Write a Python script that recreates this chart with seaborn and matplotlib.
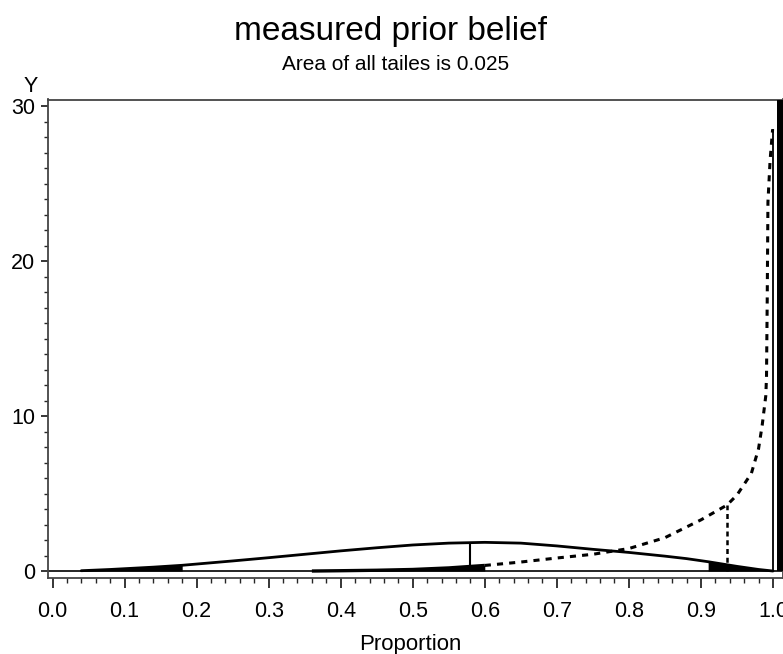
import matplotlib
matplotlib.use("Agg")
import matplotlib.pyplot as plt
import seaborn as sns
import numpy as np
from matplotlib.ticker import MultipleLocator, FormatStrFormatter

# ---- text ----
title = "measured prior belief"
subtitle = "Area of all tailes is 0.025"
x_label = "Proportion"
y_label = "Y"

# ---- solid curve (prior) ----
prior_x = [0.04, 0.06, 0.08, 0.10, 0.12, 0.14, 0.16, 0.18, 0.20, 0.25, 0.30, 0.35,
           0.40, 0.45, 0.50, 0.55, 0.60, 0.65, 0.70, 0.75, 0.80, 0.85, 0.88, 0.91,
           0.95, 0.98, 1.00]
prior_y = [0.02, 0.06, 0.10, 0.15, 0.20, 0.25, 0.31, 0.37, 0.45, 0.65, 0.86, 1.08,
           1.30, 1.50, 1.68, 1.80, 1.85, 1.80, 1.62, 1.40, 1.20, 0.96, 0.80, 0.60,
           0.30, 0.10, 0.00]
prior_lower_tail_end = 0.18
prior_upper_tail_start = 0.91
prior_center = 0.58
prior_center_height = 1.83

# ---- dashed curve (measured) ----
meas_x = [0.36, 0.40, 0.45, 0.50, 0.55, 0.60, 0.65, 0.70, 0.75, 0.80, 0.85, 0.90,
          0.936, 0.95, 0.97, 0.98, 0.985, 0.99, 0.991, 0.992, 0.993, 0.996, 0.9995]
meas_y = [0.00, 0.02, 0.05, 0.10, 0.20, 0.36, 0.58, 0.84, 1.08, 1.45, 2.15, 3.30,
          4.25, 4.90, 6.30, 7.90, 9.40, 11.3, 12.5, 17.5, 23.8, 26.5, 28.5]
meas_lower_tail_end = 0.60
meas_center = 0.936
meas_center_height = 4.25
meas_edge_x = 0.9995
meas_edge_height = 28.5
meas_upper_tail_x = [1.0055, 1.03]
meas_upper_tail_height = 32

x_ticks = [0.0, 0.1, 0.2, 0.3, 0.4, 0.5, 0.6, 0.7, 0.8, 0.9, 1.0]
y_ticks = [0, 10, 20, 30]

sns.set_style("ticks")
plt.rcParams['font.family'] = ['Liberation Sans', 'DejaVu Sans']

W, H = 783, 654
fig = plt.figure(figsize=(W / 100, H / 100), dpi=100)
left_px, right_px, top_px, bot_px = 48, 783, 99.5, 578
ax = fig.add_axes([left_px / W, 1 - bot_px / H, (right_px - left_px) / W, (bot_px - top_px) / H])

ax.set_xlim(-0.00625, 1.0139)
ax.set_ylim(-0.45, 30.42)

ink = "black"
# baseline
ax.axhline(0, color=ink, lw=1.2, zorder=2)

# prior curve and tails
px = np.array(prior_x); py = np.array(prior_y)
sns.lineplot(x=prior_x, y=prior_y, ax=ax, color=ink, lw=2.0, estimator=None, sort=False, zorder=3)
m = px <= prior_lower_tail_end
ax.fill_between(px[m], 0, py[m], color=ink, lw=0, zorder=3)
m = px >= prior_upper_tail_start
ax.fill_between(px[m], 0, py[m], color=ink, lw=0, zorder=3)
ax.vlines(prior_center, 0, prior_center_height, color=ink, lw=1.5, zorder=3)

# measured curve and tails
mx = np.array(meas_x); my = np.array(meas_y)
m = mx <= meas_lower_tail_end
sns.lineplot(x=mx[~m | (mx == meas_lower_tail_end)], y=my[~m | (mx == meas_lower_tail_end)], ax=ax,
             color=ink, lw=2.2, linestyle=(0, (2.0, 2.0)), estimator=None, sort=False, zorder=3)
ax.fill_between(mx[m], 0, my[m], color=ink, lw=0, zorder=3)
ax.plot(mx[m], my[m], color=ink, lw=2.4, solid_capstyle='butt', zorder=3)
ax.vlines(meas_center, 0, meas_center_height, color=ink, lw=1.8, linestyles=(0, (2.0, 1.5)), zorder=3)
ax.vlines(meas_edge_x, 0, meas_edge_height, color=ink, lw=1.3, zorder=3)
ax.fill_between(meas_upper_tail_x, 0, meas_upper_tail_height, color=ink, lw=0, zorder=3)

# ticks
ax.set_xticks(x_ticks)
ax.xaxis.set_major_formatter(FormatStrFormatter('%.1f'))
ax.xaxis.set_minor_locator(MultipleLocator(0.02))
ax.set_yticks(y_ticks)
ax.yaxis.set_minor_locator(MultipleLocator(1))
ax.tick_params(axis='x', which='major', direction='out', length=7.2, width=1.1, pad=9.5,
               labelsize=15.5, colors=ink)
ax.tick_params(axis='x', which='minor', direction='out', length=3.6, width=1.0)
ax.tick_params(axis='y', which='major', direction='out', length=5, width=1.1, pad=4,
               labelsize=15.5, colors=ink)
ax.tick_params(axis='y', which='minor', direction='out', length=2.9, width=1.0)

for s in ['left', 'top', 'bottom', 'right']:
    ax.spines[s].set_color('#444444')
    ax.spines[s].set_linewidth(1.3)

ax.set_xlabel(x_label, fontsize=16, color=ink)
ax.xaxis.set_label_coords((410 - left_px) / (right_px - left_px), -(634 - bot_px) / (bot_px - top_px))
ax.set_ylabel("")
fig.text(31 / W, 1 - 92 / H, y_label, fontsize=15.5, ha='center', va='baseline', color=ink)

fig.text(391 / W, 1 - 40 / H, title, fontsize=24, ha='center', va='baseline', color=ink)
fig.text(396 / W, 1 - 70 / H, subtitle, fontsize=15, ha='center', va='baseline', color=ink)

fig.savefig("out.png", dpi=100)
